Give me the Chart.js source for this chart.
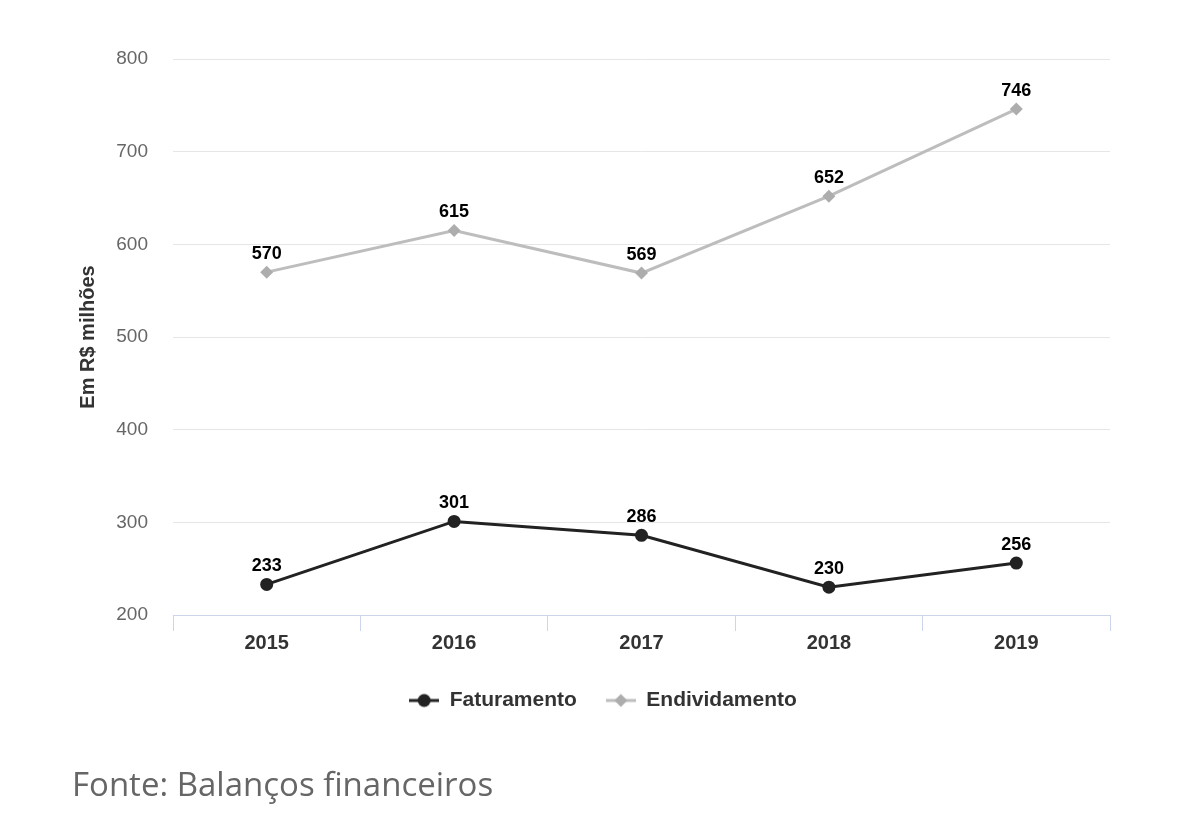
<!DOCTYPE html>
<html>
<head>
<meta charset="utf-8">
<script src="https://cdn.jsdelivr.net/npm/chart.js@4"></script>
<style>
  body { margin: 0; background: #fff; }
  #wrap { position: relative; width: 1200px; height: 831px; }
  #source {
    position: absolute; left: 72px; top: 761px;
    font-family: "Open Sans", sans-serif; font-size: 33px; color: #666;
  }
</style>
</head>
<body>
<div id="wrap">
  <canvas id="chart" width="1200" height="831"></canvas>
  <div id="source">Fonte: Balanços financeiros</div>
</div>
<script>
// data
const years = ['2015', '2016', '2017', '2018', '2019'];
const faturamento = [233, 301, 286, 230, 256];
const endividamento = [570, 615, 569, 652, 746];
const yTicks = [200, 300, 400, 500, 600, 700, 800];

const FONT = '"Liberation Sans", Arial, sans-serif';
const darkColor = '#222222';
const greyLine = '#bdbdbd';
const greyMarker = '#adadad';

// small legend icons: line with marker
function legendIcon(color, markerColor, shape) {
    const c = document.createElement('canvas');
    c.width = 30; c.height = 16;
    const g = c.getContext('2d');
    g.strokeStyle = color;
    g.lineWidth = 3;
    g.beginPath(); g.moveTo(0, 8); g.lineTo(30, 8); g.stroke();
    g.fillStyle = markerColor;
    g.beginPath();
    if (shape === 'circle') {
        g.arc(15, 8, 6.5, 0, Math.PI * 2);
    } else {
        g.moveTo(15, 1.5); g.lineTo(21.5, 8); g.lineTo(15, 14.5); g.lineTo(8.5, 8); g.closePath();
    }
    g.fill();
    return c;
}

// draw value labels above each point
const valueLabels = {
    id: 'valueLabels',
    afterDatasetsDraw(chart) {
        const ctx = chart.ctx;
        ctx.save();
        ctx.font = 'bold 18px ' + FONT;
        ctx.fillStyle = '#000';
        ctx.textAlign = 'center';
        ctx.textBaseline = 'bottom';
        chart.data.datasets.forEach((ds, i) => {
            chart.getDatasetMeta(i).data.forEach((pt, j) => {
                ctx.fillText(ds.data[j], pt.x, pt.y - 9);
            });
        });
        ctx.restore();
    }
};

// legend sits a bit right of the plot centre in the original
const nudgeLegend = {
    id: 'nudgeLegend',
    afterLayout(chart) {
        chart.legend.left += 10;
        chart.legend.right += 10;
    }
};

new Chart(document.getElementById('chart'), {
    type: 'line',
    data: {
        labels: years,
        datasets: [{
            label: 'Faturamento',
            data: faturamento,
            borderColor: darkColor,
            backgroundColor: darkColor,
            borderWidth: 3,
            pointStyle: 'circle',
            pointRadius: 6.5,
            pointBorderWidth: 0,
            tension: 0
        }, {
            label: 'Endividamento',
            data: endividamento,
            borderColor: greyLine,
            backgroundColor: greyMarker,
            borderWidth: 3,
            pointStyle: 'rectRot',
            pointRadius: 6.5,
            pointBorderWidth: 0,
            tension: 0
        }]
    },
    options: {
        responsive: false,
        animation: false,
        layout: { padding: { left: 76, right: 90, top: 59, bottom: 110 } },
        plugins: {
            tooltip: { enabled: false },
            legend: {
                position: 'bottom',
                labels: {
                    usePointStyle: true,
                    pointStyleWidth: 30,
                    padding: 29,
                    color: '#333',
                    font: { family: FONT, size: 21, weight: 'bold' },
                    generateLabels(chart) {
                        return [
                            { text: 'Faturamento', datasetIndex: 0, fontColor: '#333', lineWidth: 0,
                              pointStyle: legendIcon(darkColor, darkColor, 'circle') },
                            { text: 'Endividamento', datasetIndex: 1, fontColor: '#333', lineWidth: 0,
                              pointStyle: legendIcon(greyLine, greyMarker, 'diamond') }
                        ];
                    }
                }
            }
        },
        scales: {
            x: {
                offset: true,
                grid: {
                    offset: true,
                    drawOnChartArea: false,
                    drawTicks: true,
                    tickLength: 16,
                    color: '#ccd6eb'
                },
                border: { color: '#ccd6eb', width: 1 },
                ticks: {
                    color: '#333',
                    padding: 0,
                    font: { family: FONT, size: 20, weight: 'bold' }
                },
                afterFit(scale) { scale.height = 46; }
            },
            y: {
                min: 200,
                max: 800,
                afterBuildTicks(scale) { scale.ticks = yTicks.map(v => ({ value: v })); },
                grid: { color: '#e6e6e6', drawTicks: false },
                border: { display: false },
                ticks: {
                    color: '#666',
                    padding: 25,
                    font: { family: FONT, size: 19 }
                },
                title: {
                    display: true,
                    text: 'Em R$ milhões',
                    color: '#333',
                    padding: 0,
                    font: { family: FONT, size: 20, weight: 'bold' }
                },
                afterFit(scale) { scale.width = 97; }
            }
        }
    },
    plugins: [valueLabels, nudgeLegend]
});
</script>
</body>
</html>
